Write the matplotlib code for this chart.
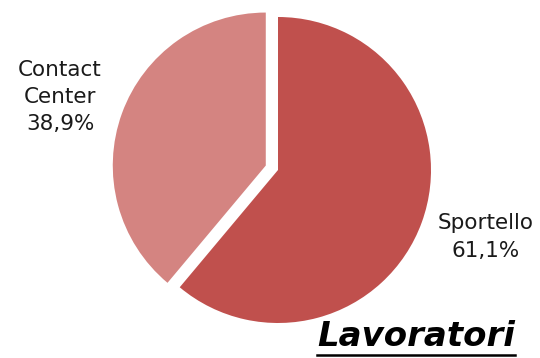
import matplotlib
matplotlib.use("Agg")
import matplotlib.pyplot as plt
from matplotlib.lines import Line2D

CATEGORIES = ["Sportello", "Contact Center"]
VALUES = [61.1, 38.9]
LABELS = ["Sportello\n61,1%", "Contact\nCenter\n38,9%"]
TITLE = "Lavoratori"

COLORS = ["#C0504D", "#D48481"]
INK = "#1A1A1A"

W, H = 540, 358
CX, CY, R = 278, 170, 153  # pie centre / radius in pixels

fig = plt.figure(figsize=(W / 100, H / 100), dpi=100)
ax = fig.add_axes([0, 0, 1, 1])
ax.pie(VALUES, colors=COLORS, startangle=90, counterclock=False,
       explode=[0, 0.085], radius=1, wedgeprops=dict(linewidth=0))
ax.set_xlim(-CX / R, (W - CX) / R)
ax.set_ylim(-(H - CY) / R, CY / R)
ax.set_aspect("auto")
ax.axis("off")

font = ["DejaVu Sans"]
ax.text((60 - CX) / R, (CY - 97) / R, LABELS[1], ha="center", va="center",
        fontsize=15.5, color=INK, family=font, linespacing=1.45)
ax.text((486 - CX) / R, (CY - 237) / R, LABELS[0], ha="center", va="center",
        fontsize=15.5, color=INK, family=font, linespacing=1.45)

t = fig.text(416 / W, 1 - 336 / H, TITLE, ha="center", va="center",
             fontsize=24.5, fontweight="bold", fontstyle="italic", color="black",
             family=font)
fig.canvas.draw()
bb = t.get_window_extent()
fig.add_artist(Line2D([bb.x0 / W, bb.x1 / W], [(H - 355) / H] * 2,
                      transform=fig.transFigure, color="black", lw=1.8))

fig.savefig("out.png", dpi=100)
